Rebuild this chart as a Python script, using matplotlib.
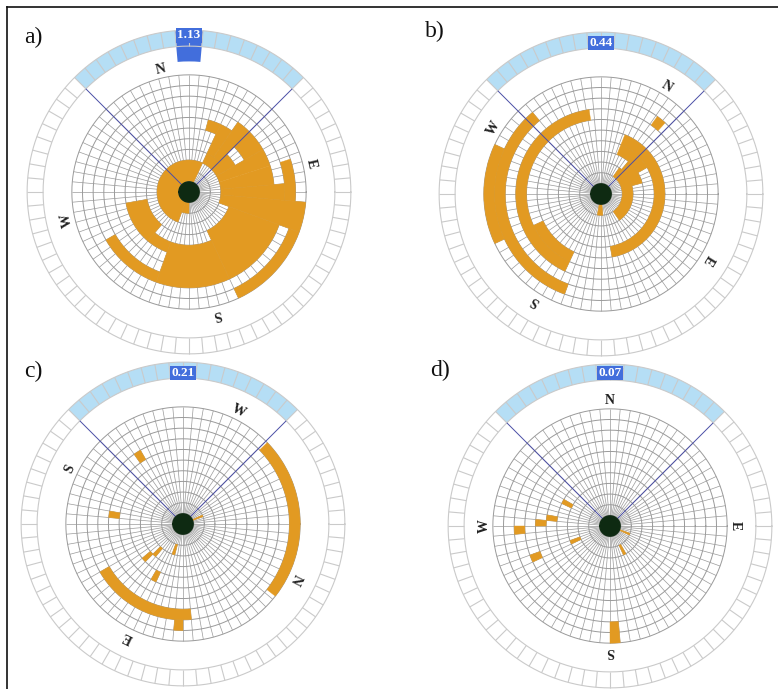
import numpy as np
import matplotlib
matplotlib.use("Agg")
import matplotlib.pyplot as plt
from matplotlib.lines import Line2D

# ---------------- data ----------------
panel_labels = ["a)", "b)", "c)", "d)"]
values = [1.13, 0.44, 0.21, 0.07]
value_labels = ["1.13", "0.44", "0.21", "0.07"]
north_deg = [103, 58.5, -26, 90]          # direction of N (math degrees)
compass_letters = ["N", "W", "S", "E"]    # N, then +90, +180, +270
n_sectors = 72
n_rings = 11

# shaded cells: (theta_start, theta_end, ring_start, ring_end)
blocks_a = [
    (65, 250, 1, 3), (250, 270, 1, 2), (45, 65, 3, 4), (65, 75, 6, 7),
    (55, 65, 4, 7), (45, 55, 4, 8), (30, 45, 6, 8), (30, 45, 3, 5), (18, 30, 3, 8),
    (5, 18, 3, 8), (-5, 18, 9, 10), (-5, 5, 3, 9), (-20, -5, 3, 11),
    (-65, -20, 4, 9), (-65, -20, 10, 11), (-90, -65, 5, 9),
    (250, 270, 5, 9), (230, 250, 5, 6), (210, 250, 8, 9), (190, 230, 4, 6),
]
blocks_b = [
    (130, 250, 9, 10), (155, 205, 10, 11), (98, 245, 7, 8), (205, 245, 6, 7),
    (48, 54, 8, 9), (-80, 68, 5, 6), (30, 68, 4, 5), (15, 50, 3, 4),
    (-55, 55, 2, 3), (260, 275, 1, 2),
]
blocks_c = [
    (-38, 44, 10, 11), (210, 275, 8, 9), (265, 270, 9, 10), (120, 125, 7, 8),
    (170, 175, 6, 7), (220, 225, 4, 5), (225, 230, 3, 4), (240, 245, 5, 6),
    (250, 255, 2, 3), (20, 25, 1, 2),
]
blocks_d = [
    (270, 275, 9, 11), (180, 185, 8, 9), (200, 205, 7, 8), (175, 180, 6, 7),
    (170, 175, 5, 6), (150, 155, 4, 5), (200, 205, 3, 4), (335, 340, 1, 2),
    (295, 300, 2, 3),
]
all_blocks = [blocks_a, blocks_b, blocks_c, blocks_d]

# ---------------- layout / style ----------------
W, H = 778, 689
centers = [(189, 192), (601, 194), (183, 524), (610, 526)]
label_pos = [(24, 43), (425, 37), (24, 377), (430, 376)]
value_r = [14.7, 14.2, 14.2, 14.4]
UNIT = 10.65
RMAX = 15.4
RING_IN, RING_OUT = 13.7, 15.2
LABEL_R = 11.8
DOT_R = 0.95
ORANGE = "#E29A22"
LIGHT_BLUE = "#B5DEF5"
DARK_BLUE = "#426EDC"
DOT = "#0E2A12"
GRID = "#9A9A9A"
RING_GRID = "#CACACA"
LINE_BLUE = "#4A4EA6"

fig = plt.figure(figsize=(W / 100, H / 100), dpi=100)
size = 2 * RMAX * UNIT

full = np.linspace(0, 2 * np.pi, 721)
sector_edges = np.deg2rad(np.arange(n_sectors) * 360 / n_sectors)

for i in range(4):
    cx, cy = centers[i]
    ax = fig.add_axes([(cx - size / 2) / W, (H - cy - size / 2) / H, size / W, size / H],
                      projection="polar")
    ax.set_ylim(0, RMAX)
    ax.set_axis_off()

    # outer ring: light blue top arc
    ax.bar(np.deg2rad(45), RING_OUT - RING_IN, width=np.deg2rad(90), bottom=RING_IN,
           align="edge", color=LIGHT_BLUE, edgecolor="none", zorder=1)
    # value bar (hangs from the label box)
    top = value_r[i] + 0.45
    depth = max(values[i] * 3.0 - 0.5, 0.1)
    ax.bar(np.deg2rad(85), depth, width=np.deg2rad(10), bottom=top - depth,
           align="edge", color=DARK_BLUE, edgecolor="none", zorder=2)
    # outer ring cells
    for r in (RING_IN, RING_OUT):
        ax.plot(full, np.full_like(full, r), color=RING_GRID, lw=0.8, zorder=3)
    ax.vlines(sector_edges, RING_IN, RING_OUT, color=RING_GRID, lw=0.8, zorder=3)

    # inner grid
    for k in range(1, n_rings + 1):
        ax.plot(full, np.full_like(full, k), color=GRID, lw=0.7, zorder=2)
    ax.vlines(sector_edges, 0, n_rings, color=GRID, lw=0.5, zorder=2)

    # shaded cells
    for (t0, t1, r0, r1) in all_blocks[i]:
        ax.bar(np.deg2rad(t0), r1 - r0, width=np.deg2rad(t1 - t0), bottom=r0,
               align="edge", color=ORANGE, edgecolor=ORANGE, lw=0.3, zorder=4)

    # blue guide lines
    ax.vlines(np.deg2rad([45, 135]), 0, RING_IN, color=LINE_BLUE, lw=0.7, zorder=5)

    # center dot
    ax.bar(0, DOT_R, width=2 * np.pi, bottom=0, color=DOT, edgecolor=DOT, zorder=6)

    # value label
    ax.text(np.pi / 2, value_r[i], value_labels[i], color="white", fontsize=9.5,
            fontweight="bold", family="Liberation Serif", ha="center", va="center",
            zorder=7, bbox=dict(facecolor=DARK_BLUE, edgecolor="none", pad=0.8))

    # compass letters
    for j, letter in enumerate(compass_letters):
        th = north_deg[i] + 90 * j
        ax.text(np.deg2rad(th), LABEL_R, letter, rotation=th - 90, rotation_mode="anchor",
                ha="center", va="center", fontsize=10, fontweight="bold",
                family="Liberation Serif", color="#222222", zorder=7)

    lx, ly = label_pos[i]
    fig.text(lx / W, 1 - ly / H, panel_labels[i], fontsize=17,
             family="Liberation Serif", ha="left", va="baseline", color="#111111")

# frame lines (top and left)
fig.add_artist(Line2D([7 / W, 1], [1 - 7 / H, 1 - 7 / H], color="#111111", lw=1.2))
fig.add_artist(Line2D([7 / W, 7 / W], [0, 1 - 7 / H], color="#111111", lw=1.2))

fig.savefig("out.png", dpi=100, facecolor="white")
